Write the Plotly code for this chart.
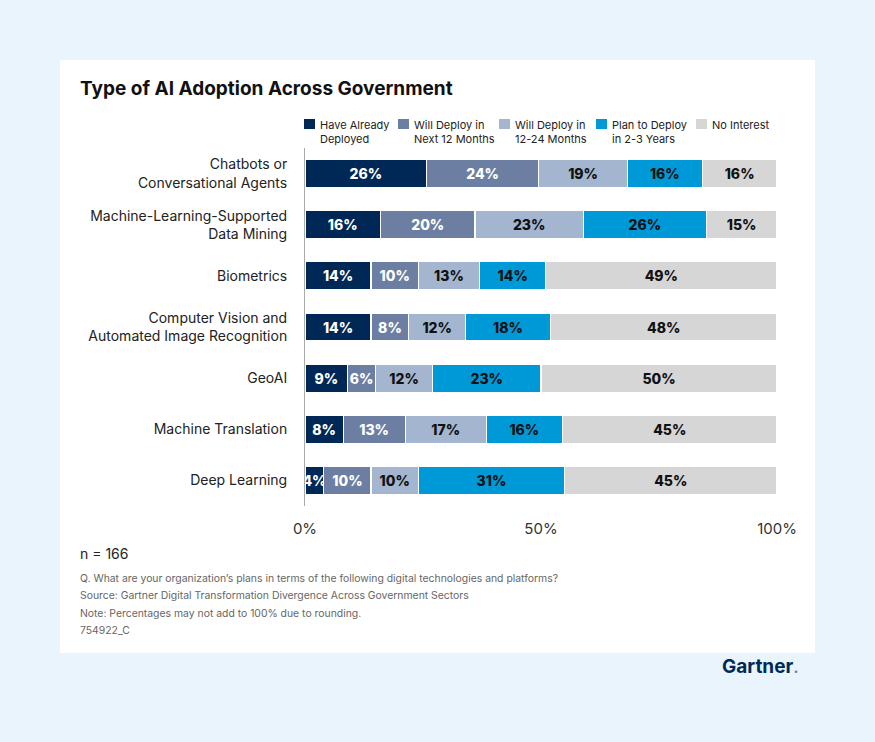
import plotly.graph_objects as go

categories = [
    "Chatbots or<br>Conversational Agents",
    "Machine-Learning-Supported<br>Data Mining",
    "Biometrics",
    "Computer Vision and<br>Automated Image Recognition",
    "GeoAI",
    "Machine Translation",
    "Deep Learning",
]
series_names = [
    "Have Already<br>Deployed",
    "Will Deploy in<br>Next 12 Months",
    "Will Deploy in<br>12-24 Months",
    "Plan to Deploy<br>in 2-3 Years",
    "No Interest",
]
have_deployed = [26, 16, 14, 14, 9, 8, 4]
next_12 = [24, 20, 10, 8, 6, 13, 10]
months_12_24 = [19, 23, 13, 12, 12, 17, 10]
years_2_3 = [16, 26, 14, 18, 23, 16, 31]
no_interest = [16, 15, 49, 48, 50, 45, 45]
series_values = [have_deployed, next_12, months_12_24, years_2_3, no_interest]
colors = ["#002856", "#6c7fa3", "#a3b5cf", "#0099d8", "#d6d6d6"]
text_colors = ["#ffffff", "#ffffff", "#111111", "#111111", "#111111"]
x_tickvals = [0, 50, 100]
x_ticktext = ["0%", "50%", "100%"]

W, H = 875, 742
L, R, T, B = 305, 98, 148, 236
PW, PH = W - L - R, H - T - B
BG = "#e9f4fc"

def px(x):
    return (x - L) / PW

def py(y):
    return (H - B - y) / PH

FONT = "Inter"
fig = go.Figure()
for name, vals, col, tcol in zip(series_names, series_values, colors, text_colors):
    fig.add_trace(go.Bar(
        y=categories, x=vals, orientation="h", name=name,
        marker=dict(color=col, line=dict(color="white", width=1.2)),
        text=[f"{v}%" for v in vals], textposition="inside", textangle=0,
        insidetextanchor="middle",
        textfont=dict(family=FONT, size=14, color=tcol, weight=800),
        showlegend=False, hoverinfo="skip", cliponaxis=False,
    ))

shapes = [dict(type="rect", xref="paper", yref="paper", x0=px(60), x1=px(815),
               y0=py(653), y1=py(60), fillcolor="white", line=dict(width=0), layer="below")]
annotations = []
leg_x = [304, 398, 499, 596, 696]
for lx, name, col in zip(leg_x, series_names, colors):
    shapes.append(dict(type="rect", xref="paper", yref="paper", x0=px(lx), x1=px(lx + 11),
                       y0=py(129), y1=py(119), fillcolor=col, line=dict(width=0)))
    annotations.append(dict(xref="paper", yref="paper", x=px(lx + 14), y=py(116),
                            xanchor="left", yanchor="top", align="left", showarrow=False,
                            text=name, font=dict(family=FONT, size=11, color="#222")))

annotations.append(dict(xref="paper", yref="paper", x=px(78), y=py(88), xanchor="left",
                        yanchor="middle", showarrow=False,
                        text="<b>Type of AI Adoption Across Government</b>",
                        font=dict(family=FONT, size=19, color="#111", weight=800)))
annotations.append(dict(xref="paper", yref="paper", x=px(78), y=py(553), xanchor="left",
                        yanchor="middle", showarrow=False, text="n = 166",
                        font=dict(family=FONT, size=14, color="#222")))
notes = [
    "Q. What are your organization’s plans in terms of the following digital technologies and platforms?",
    "Source: Gartner Digital Transformation Divergence Across Government Sectors",
    "Note: Percentages may not add to 100% due to rounding.",
    "754922_C",
]
for i, n in enumerate(notes):
    annotations.append(dict(xref="paper", yref="paper", x=px(78), y=py(578 + 17.6 * i),
                            xanchor="left", yanchor="middle", showarrow=False, text=n,
                            font=dict(family=FONT, size=10.4, color="#666")))
annotations.append(dict(xref="paper", yref="paper", x=px(801), y=py(666), xanchor="right",
                        yanchor="middle", showarrow=False,
                        text="<b>Gartner</b><span style='color:#6c7fa3'>.</span>",
                        font=dict(family=FONT, size=19, color="#002856")))

fig.update_layout(
    width=W, height=H, barmode="stack", barnorm="percent", bargap=0.45,
    margin=dict(l=L, r=R, t=T, b=B, autoexpand=False),
    paper_bgcolor=BG, plot_bgcolor="rgba(0,0,0,0)",
    uniformtext=dict(minsize=14, mode="show"),
    shapes=shapes, annotations=annotations,
    font=dict(family=FONT),
)
fig.update_xaxes(range=[0, 100], tickvals=x_tickvals, ticktext=x_ticktext, showgrid=False,
                 zeroline=False, showline=False, ticks="", ticklabelstandoff=12,
                 tickfont=dict(family=FONT, size=15, color="#333"), fixedrange=True)
fig.update_yaxes(autorange="reversed", showgrid=False, showline=True, linecolor="#aaaaaa",
                 linewidth=1, ticks="", ticklabelstandoff=14,
                 tickfont=dict(family=FONT, size=14, color="#222"), fixedrange=True)
fig.write_html(
    "out.html",
    config={"displayModeBar": False},
    post_script="document.body.style.margin='0';document.body.style.background='" + BG + "';",
)
